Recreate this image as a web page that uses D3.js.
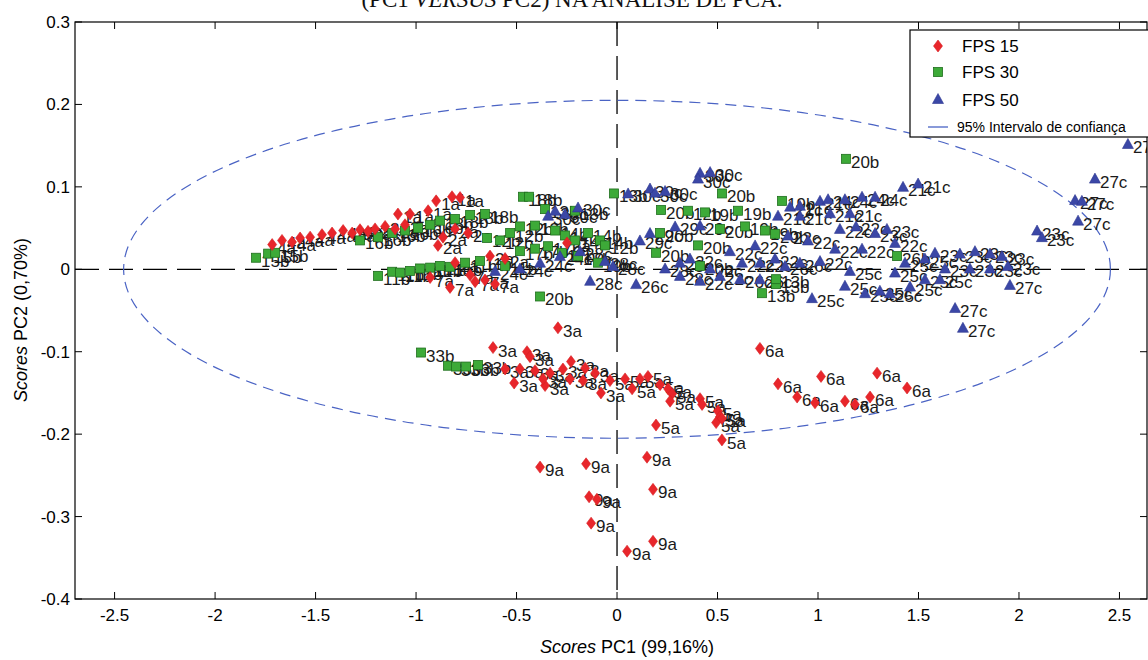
<!DOCTYPE html>
<html>
<head>
<meta charset="utf-8">
<script src="https://cdn.jsdelivr.net/npm/d3@7"></script>
<style>
  html, body { margin: 0; padding: 0; background: #fff; }
  svg { display: block; }
</style>
</head>
<body>
<svg id="chart" width="1148" height="660"></svg>
<script>
// Axis ticks
const xTicks = [-2.5, -2, -1.5, -1, -0.5, 0, 0.5, 1, 1.5, 2, 2.5];
const yTicks = [0.3, 0.2, 0.1, 0, -0.1, -0.2, -0.3, -0.4];

// Scores [PC1, PC2, sample label] per group
const fps15 = [
  [-1.716, 0.030, "4a"], [-1.667, 0.035, "4a"], [-1.617, 0.033, "4a"], [-1.577, 0.038, "4a"],
  [-1.527, 0.039, "4a"], [-1.468, 0.042, "4a"], [-1.418, 0.044, "4a"], [-1.363, 0.047, "4a"],
  [-1.318, 0.044, "4a"], [-1.279, 0.048, "4a"], [-1.239, 0.046, "2a"], [-1.204, 0.049, "2a"],
  [-1.154, 0.052, "2a"], [-1.104, 0.049, "2a"], [-1.055, 0.054, "2a"], [-1.090, 0.067, "1a"],
  [-1.030, 0.067, "1a"], [-0.940, 0.071, "1a"], [-0.900, 0.083, "1a"], [-0.821, 0.088, "1a"],
  [-0.781, 0.087, "1a"], [-0.891, 0.029, "2a"], [-0.866, 0.039, "2a"], [-0.806, 0.049, "2a"],
  [-0.741, 0.044, "2a"], [-0.806, 0.008, "2a"], [-0.632, 0.016, "2a"], [-0.557, 0.013, "2a"],
  [-0.249, 0.032, "2a"],
  [-0.831, -0.022, "7a"], [-0.706, -0.015, "7a"], [-0.657, -0.013, "7a"], [-0.607, -0.018, "7a"],
  [-0.731, -0.007, "7a"], [-0.930, -0.010, "7a"],
  [-0.294, -0.071, "3a"], [-0.617, -0.095, "3a"], [-0.448, -0.100, "3a"], [-0.433, -0.106, "3a"],
  [-0.229, -0.112, "3a"], [-0.512, -0.138, "3a"], [-0.358, -0.141, "3a"], [-0.368, -0.133, "3a"],
  [-0.557, -0.121, "3a"], [-0.483, -0.121, "3a"], [-0.408, -0.123, "3a"], [-0.333, -0.126, "3a"],
  [-0.269, -0.121, "3a"], [-0.159, -0.120, "3a"], [-0.109, -0.126, "3a"], [-0.080, -0.150, "3a"],
  [-0.169, -0.135, "3a"], [-0.234, -0.133, "3a"],
  [-0.035, -0.135, "5a"], [0.040, -0.133, "5a"], [0.114, -0.133, "5a"], [0.154, -0.130, "5a"],
  [0.075, -0.145, "5a"], [0.214, -0.140, "5a"], [0.254, -0.145, "5a"], [0.274, -0.151, "5a"],
  [0.264, -0.160, "5a"], [0.413, -0.157, "5a"], [0.423, -0.164, "5a"], [0.502, -0.172, "5a"],
  [0.512, -0.179, "5a"], [0.493, -0.186, "5a"], [0.522, -0.181, "5a"], [0.194, -0.189, "5a"],
  [0.522, -0.207, "5a"],
  [0.711, -0.096, "6a"], [0.801, -0.139, "6a"], [0.896, -0.155, "6a"], [1.015, -0.130, "6a"],
  [0.985, -0.162, "6a"], [1.134, -0.160, "6a"], [1.184, -0.164, "6a"], [1.259, -0.155, "6a"],
  [1.294, -0.126, "6a"], [1.443, -0.144, "6a"],
  [-0.383, -0.240, "9a"], [-0.154, -0.236, "9a"], [0.149, -0.228, "9a"], [0.179, -0.267, "9a"],
  [-0.139, -0.276, "9a"], [-0.100, -0.279, "9a"], [-0.129, -0.308, "9a"], [0.179, -0.330, "9a"],
  [0.050, -0.342, "9a"]
];

const fps30 = [
  [-1.796, 0.014, "15b"], [-1.736, 0.019, "15b"], [-1.701, 0.020, "15b"],
  [-1.279, 0.035, "16b"], [-1.189, 0.039, "16b"], [-1.119, 0.044, "16b"], [-1.055, 0.047, "16b"],
  [-0.990, 0.050, "16b"], [-0.930, 0.054, "16b"], [-0.881, 0.059, "18b"], [-0.806, 0.061, "18b"],
  [-0.731, 0.066, "18b"], [-0.657, 0.067, "18b"], [-0.468, 0.088, "18b"], [-0.438, 0.088, "18b"],
  [-1.189, -0.008, "11b"], [-1.119, -0.003, "11b"], [-1.080, -0.004, "11b"], [-1.030, -0.002, "11b"],
  [-0.980, 0.001, "11b"], [-0.930, 0.002, "11b"], [-0.881, 0.004, "11b"], [-0.831, 0.003, "11b"],
  [-0.647, 0.038, "12b"], [-0.582, 0.035, "12b"], [-0.532, 0.044, "12b"], [-0.483, 0.052, "12b"],
  [-0.408, 0.053, "12b"], [-0.358, 0.073, "13b"], [-0.308, 0.047, "14b"], [-0.259, 0.041, "14b"],
  [-0.209, 0.035, "14b"], [-0.144, 0.044, "14b"], [-0.085, 0.035, "14b"], [-0.483, 0.022, "17b"],
  [-0.408, 0.025, "17b"], [-0.343, 0.028, "17b"], [-0.274, 0.020, "17b"], [-0.194, 0.016, "17b"],
  [-0.557, 0.004, "11b"], [-0.682, 0.010, "11b"], [-0.756, 0.008, "11b"], [-0.209, 0.071, "13b"],
  [-0.015, 0.092, "13b"], [-0.383, -0.033, "20b"], [-0.095, 0.008, "19b"], [-0.060, 0.029, "12b"],
  [0.219, 0.072, "20b"], [0.353, 0.071, "12b"], [0.438, 0.069, "19b"], [0.522, 0.092, "20b"],
  [0.602, 0.071, "19b"], [0.821, 0.083, "19b"], [1.139, 0.134, "20b"], [0.214, 0.044, "20b"],
  [0.403, 0.029, "20b"], [0.637, 0.052, "19b"], [0.736, 0.047, "19b"], [0.786, 0.043, "20b"],
  [0.512, 0.049, "20b"], [0.194, 0.020, "20b"], [0.413, 0.004, "20b"], [0.791, -0.018, "13b"],
  [0.791, -0.012, "13b"], [0.721, -0.029, "13b"], [1.393, 0.016, "26b"],
  [-0.975, -0.101, "33b"], [-0.841, -0.117, "33b"], [-0.801, -0.118, "33b"], [-0.751, -0.118, "33b"],
  [-0.692, -0.116, "33b"]
];

const fps50 = [
  [-0.308, 0.071, "30c"], [-0.343, 0.065, "30c"], [-0.194, 0.075, "30c"], [-0.259, 0.067, "30c"],
  [0.055, 0.092, "30c"], [0.164, 0.098, "30c"], [0.189, 0.093, "30c"], [0.239, 0.095, "30c"],
  [0.413, 0.117, "30c"], [0.463, 0.118, "30c"], [0.403, 0.110, "30c"],
  [-0.134, -0.014, "28c"], [-0.020, 0.004, "28c"], [0.095, -0.018, "26c"], [0.313, 0.008, "28c"],
  [0.239, 0.001, "28c"], [0.164, 0.044, "29c"], [0.289, 0.052, "29c"], [0.413, 0.053, "29c"],
  [0.114, 0.035, "29c"], [-0.607, -0.002, "24c"], [-0.483, 0.001, "24c"], [-0.383, 0.008, "24c"],
  [-0.284, 0.016, "24c"], [-0.184, 0.022, "28c"], [-0.060, 0.010, "28c"],
  [0.801, 0.065, "21c"], [0.861, 0.076, "21c"], [0.910, 0.077, "21c"], [1.010, 0.083, "21c"],
  [1.050, 0.085, "24c"], [1.134, 0.085, "24c"], [1.219, 0.088, "24c"], [1.284, 0.088, "24c"],
  [1.423, 0.100, "21c"], [1.498, 0.104, "21c"], [0.910, 0.065, "21c"], [1.060, 0.068, "21c"],
  [1.159, 0.068, "21c"], [1.189, 0.052, "22c"], [1.109, 0.049, "22c"], [1.343, 0.049, "23c"],
  [1.284, 0.044, "23c"], [0.851, 0.041, "22c"], [0.950, 0.035, "22c"], [1.085, 0.025, "22c"],
  [1.219, 0.025, "22c"], [1.383, 0.032, "22c"], [0.687, 0.029, "22c"], [0.562, 0.022, "22c"],
  [0.622, 0.008, "22c"], [0.711, 0.008, "22c"], [0.786, 0.013, "22c"], [0.836, 0.004, "26c"],
  [0.910, 0.008, "26c"], [1.010, 0.010, "22c"], [1.159, -0.002, "25c"],
  [0.970, -0.035, "25c"], [1.134, -0.020, "25c"], [1.234, -0.029, "25c"], [1.308, -0.026, "25c"],
  [1.358, -0.029, "25c"], [1.458, -0.021, "25c"], [1.532, -0.012, "25c"], [1.607, -0.012, "25c"],
  [1.383, -0.004, "25c"], [1.433, 0.008, "25c"], [1.532, 0.013, "25c"],
  [1.582, 0.020, "23c"], [1.706, 0.019, "23c"], [1.781, 0.022, "23c"], [1.856, 0.019, "23c"],
  [1.915, 0.016, "23c"], [1.632, 0.001, "23c"], [1.756, 0.001, "23c"], [1.856, 0.001, "23c"],
  [1.945, 0.004, "23c"], [2.090, 0.047, "23c"], [2.114, 0.039, "23c"],
  [1.955, -0.019, "27c"], [1.682, -0.047, "27c"], [1.721, -0.071, "27c"], [2.279, 0.084, "27c"],
  [2.313, 0.083, "27c"], [2.378, 0.110, "27c"], [2.294, 0.059, "27c"], [2.542, 0.152, "27c"],
  [0.363, 0.013, "22c"], [0.463, 0.001, "22c"], [0.512, -0.008, "22c"], [0.612, -0.012, "26c"],
  [0.711, -0.012, "26c"], [0.413, -0.014, "22c"], [0.313, -0.008, "28c"]
];

// 95% confidence ellipse (centre and semi-axes in score units)
const ellipseCenter = [0, 0];
const ellipseRadii = [2.455, 0.205];

const legendLabels = ["FPS 15", "FPS 30", "FPS 50", "95% Intervalo de confiança"];

const colors = { fps15: "#e8262b", fps30: "#3daa38", fps50: "#3b47a6", ellipse: "#4a63c4" };

const svg = d3.select("#chart");
const plot = { left: 75, right: 1147, top: 22, bottom: 599 };

const x = d3.scaleLinear().domain([-2.697, 2.637]).range([plot.left, plot.right]);
const y = d3.scaleLinear().domain([-0.4, 0.3]).range([plot.bottom, plot.top]);

const sansFont = "'Liberation Sans', Arial, sans-serif";

// Title (partly above the page edge)
svg.append("text")
  .attr("x", 572).attr("y", 7)
  .attr("text-anchor", "middle")
  .attr("font-family", "'Liberation Serif', 'Times New Roman', serif")
  .attr("font-size", 23)
  .attr("fill", "#111")
  .html("(PC1 <tspan font-style='italic'>VERSUS</tspan> PC2) NA ANÁLISE DE PCA.");

const clip = svg.append("defs").append("clipPath").attr("id", "plotClip");
clip.append("rect")
  .attr("x", plot.left).attr("y", plot.top)
  .attr("width", plot.right - plot.left).attr("height", plot.bottom - plot.top);

const g = svg.append("g").attr("clip-path", "url(#plotClip)");

// Dashed zero lines
g.append("line")
  .attr("x1", plot.left).attr("x2", plot.right)
  .attr("y1", y(0)).attr("y2", y(0))
  .attr("stroke", "#000").attr("stroke-width", 1.3)
  .attr("stroke-dasharray", "24,10");
g.append("line")
  .attr("x1", x(0)).attr("x2", x(0))
  .attr("y1", plot.top).attr("y2", plot.bottom)
  .attr("stroke", "#000").attr("stroke-width", 1.3)
  .attr("stroke-dasharray", "24,10");

// Confidence ellipse
g.append("ellipse")
  .attr("cx", x(ellipseCenter[0])).attr("cy", y(ellipseCenter[1]))
  .attr("rx", x(ellipseRadii[0]) - x(0))
  .attr("ry", y(0) - y(ellipseRadii[1]))
  .attr("fill", "none")
  .attr("stroke", colors.ellipse).attr("stroke-width", 1.2)
  .attr("stroke-dasharray", "11,7");

// Marker shapes
function diamond(sel, cx, cy) {
  sel.append("path")
    .attr("d", `M${cx},${cy - 6}L${cx + 4.5},${cy}L${cx},${cy + 6}L${cx - 4.5},${cy}Z`)
    .attr("fill", colors.fps15).attr("stroke", "#d81e22").attr("stroke-width", 0.6);
}
function square(sel, cx, cy) {
  sel.append("rect")
    .attr("x", cx - 4.5).attr("y", cy - 4.5).attr("width", 9).attr("height", 9)
    .attr("fill", colors.fps30).attr("stroke", "#1f6e1d").attr("stroke-width", 0.8);
}
function triangle(sel, cx, cy) {
  sel.append("path")
    .attr("d", `M${cx},${cy - 5.5}L${cx + 5.5},${cy + 4.5}L${cx - 5.5},${cy + 4.5}Z`)
    .attr("fill", colors.fps50).attr("stroke", "#2c3590").attr("stroke-width", 0.6);
}

const series = [
  { data: fps30, draw: square },
  { data: fps50, draw: triangle },
  { data: fps15, draw: diamond }
];

const labelLayer = g.append("g");
const markLayer = g.append("g");
series.forEach(s => {
  s.data.forEach(d => {
    const cx = x(d[0]), cy = y(d[1]);
    s.draw(markLayer, cx, cy);
    labelLayer.append("text")
      .attr("x", cx + 5).attr("y", cy + 9)
      .attr("font-family", sansFont)
      .attr("font-size", 17)
      .attr("fill", "#1a1a1a")
      .text(d[2]);
  });
});
markLayer.raise();

// Frame
svg.append("rect")
  .attr("x", plot.left).attr("y", plot.top)
  .attr("width", plot.right - plot.left).attr("height", plot.bottom - plot.top)
  .attr("fill", "none").attr("stroke", "#000").attr("stroke-width", 1.2);

// Ticks (inward on all four sides)
const tl = 7;
const ticksG = svg.append("g").attr("stroke", "#000").attr("stroke-width", 1);
xTicks.forEach(t => {
  ticksG.append("line").attr("x1", x(t)).attr("x2", x(t)).attr("y1", plot.bottom).attr("y2", plot.bottom - tl);
  ticksG.append("line").attr("x1", x(t)).attr("x2", x(t)).attr("y1", plot.top).attr("y2", plot.top + tl);
});
yTicks.forEach(t => {
  ticksG.append("line").attr("x1", plot.left).attr("x2", plot.left + tl).attr("y1", y(t)).attr("y2", y(t));
  ticksG.append("line").attr("x1", plot.right).attr("x2", plot.right - tl).attr("y1", y(t)).attr("y2", y(t));
});

const fmt = v => String(v);
svg.append("g").selectAll("text").data(xTicks).join("text")
  .attr("x", d => x(d)).attr("y", plot.bottom + 22)
  .attr("text-anchor", "middle")
  .attr("font-family", sansFont).attr("font-size", 17)
  .attr("fill", "#000")
  .text(fmt);
svg.append("g").selectAll("text").data(yTicks).join("text")
  .attr("x", plot.left - 5).attr("y", d => y(d) + 6)
  .attr("text-anchor", "end")
  .attr("font-family", sansFont).attr("font-size", 17)
  .attr("fill", "#000")
  .text(fmt);

// Axis titles
svg.append("text")
  .attr("x", 627).attr("y", 653)
  .attr("text-anchor", "middle")
  .attr("font-family", sansFont).attr("font-size", 18)
  .attr("fill", "#000")
  .html("<tspan font-style='italic'>Scores</tspan> PC1 (99,16%)");
svg.append("text")
  .attr("transform", "translate(27,320) rotate(-90)")
  .attr("text-anchor", "middle")
  .attr("font-family", sansFont).attr("font-size", 18)
  .attr("fill", "#000")
  .html("<tspan font-style='italic'>Scores</tspan> PC2 (0,70%)");

// Legend
const lg = svg.append("g");
lg.append("rect")
  .attr("x", 910).attr("y", 30).attr("width", 250).attr("height", 107)
  .attr("fill", "#fff").attr("stroke", "#000").attr("stroke-width", 1.2);
diamond(lg, 938, 46);
square(lg, 938, 72);
triangle(lg, 938, 99);
lg.append("line")
  .attr("x1", 928).attr("x2", 948).attr("y1", 127).attr("y2", 127)
  .attr("stroke", colors.ellipse).attr("stroke-width", 1.3);
const legendY = [46, 72, 100];
legendLabels.slice(0, 3).forEach((t, i) => {
  lg.append("text")
    .attr("x", 962).attr("y", legendY[i] + 6)
    .attr("font-family", sansFont).attr("font-size", 17)
    .attr("fill", "#000").text(t);
});
lg.append("text")
  .attr("x", 957).attr("y", 132)
  .attr("font-family", sansFont).attr("font-size", 14)
  .attr("fill", "#000").text(legendLabels[3]);
</script>
</body>
</html>
